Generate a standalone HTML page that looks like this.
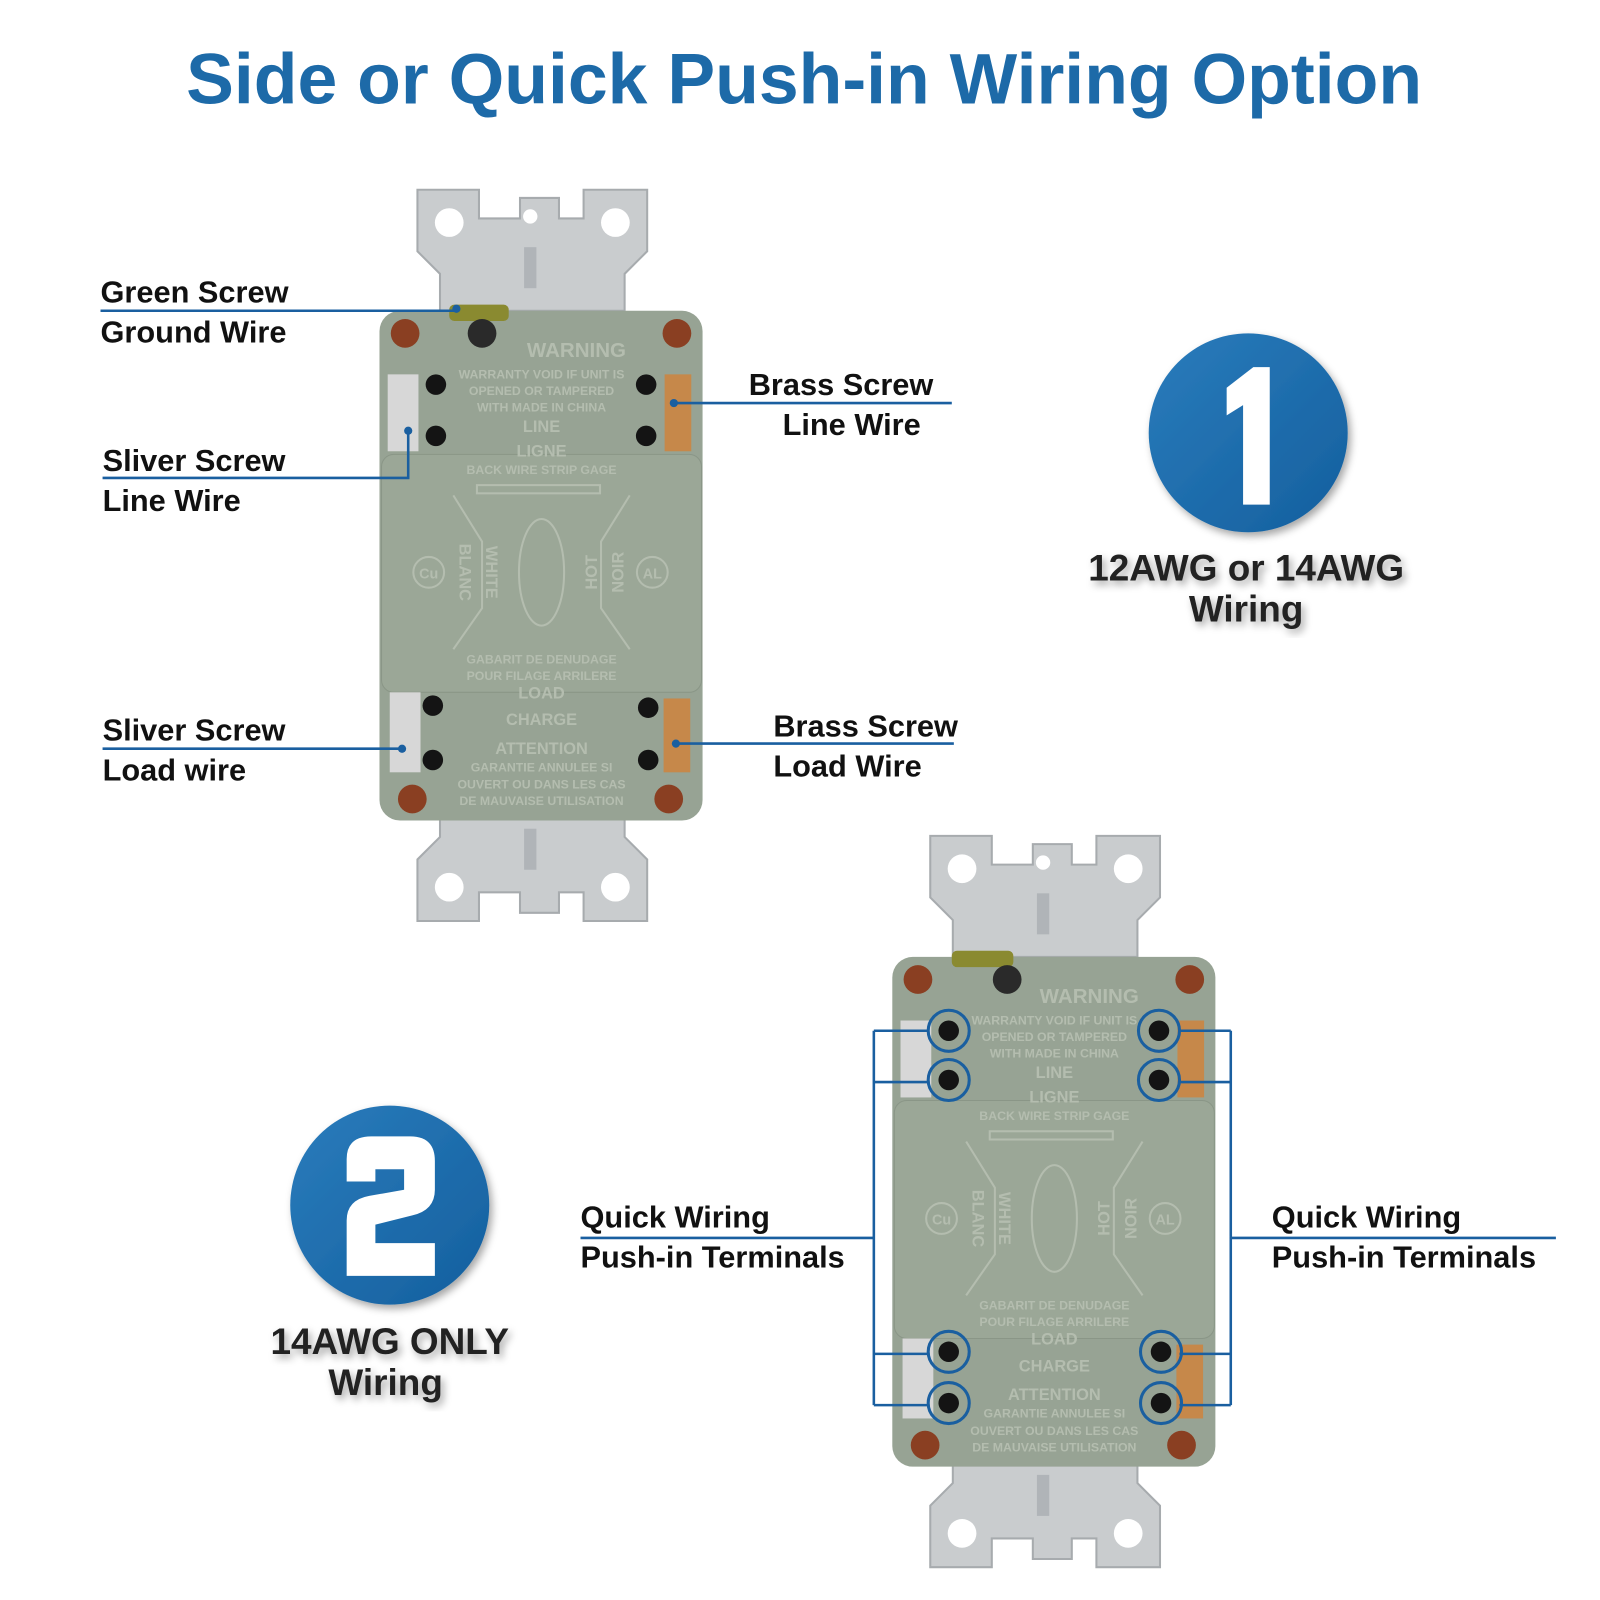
<!DOCTYPE html>
<html><head><meta charset="utf-8"><style>
html,body{margin:0;padding:0;background:#fff;width:1600px;height:1600px;overflow:hidden}
svg{display:block}
.lbl{font-family:"Liberation Sans",Arial,sans-serif;font-weight:bold;font-size:30px;fill:#111}
.big{font-family:"Liberation Sans",Arial,sans-serif;font-weight:bold;font-size:36px;fill:#222;text-anchor:middle}
.emb{font-family:"Liberation Sans",Arial,sans-serif;font-weight:bold;fill:#b4bdaf;text-anchor:middle}
</style></head><body>
<svg width="1600" height="1600" viewBox="0 0 1560 1560" xmlns="http://www.w3.org/2000/svg">
<defs>
<filter id="sh" x="-20%" y="-20%" width="140%" height="140%"><feDropShadow dx="3" dy="4" stdDeviation="4" flood-color="#000" flood-opacity="0.35"/></filter>
<linearGradient id="bl" x1="0" y1="0" x2="1" y2="1"><stop offset="0" stop-color="#2a7cbc"/><stop offset="1" stop-color="#145f9e"/></linearGradient>
</defs>
<text x="784" y="101" text-anchor="middle" font-family="Liberation Sans,Arial,sans-serif" font-weight="bold" font-size="70" fill="#1d6aa8" textLength="1205" lengthAdjust="spacingAndGlyphs">Side or Quick Push-in Wiring Option</text>

<!-- Receptacle 1 -->
<g transform="translate(370,303)">
 <path d="M37,-118 h60 v28 h40 v-20 h38 v20 h24 v-28 h62 v60 l-22,22 v36 h-180 v-36 l-22,-22z" fill="#c9ccce" stroke="#a7abae" stroke-width="2"/>
 <circle cx="68" cy="-86" r="14" fill="#fff"/><circle cx="230" cy="-86" r="14" fill="#fff"/><circle cx="147" cy="-92" r="7" fill="#fff"/>
 <rect x="141" y="-62" width="12" height="40" fill="#b0b4b8"/>
 <path d="M37,615 h60 v-28 h40 v20 h38 v-20 h24 v28 h62 v-60 l-22,-22 v-36 h-180 v36 l-22,22z" transform="translate(0,-20)" fill="#c9ccce" stroke="#a7abae" stroke-width="2"/>
 <circle cx="68" cy="562" r="14" fill="#fff"/><circle cx="230" cy="562" r="14" fill="#fff"/>
 <rect x="141" y="505" width="12" height="40" fill="#b0b4b8"/>
 <rect x="0" y="0" width="315" height="497" rx="20" fill="#97a394"/>
 <rect x="2" y="140" width="312" height="232" rx="12" fill="#9ba797" stroke="#8a9687"/>
 <rect x="68" y="-6" width="58" height="16" rx="5" fill="#8a8a30"/>
 <circle cx="100" cy="22" r="14" fill="#2a2a2a"/>
 <circle cx="25" cy="22" r="14" fill="#8a3f22"/><circle cx="290" cy="22" r="14" fill="#8a3f22"/>
 <circle cx="32" cy="476" r="14" fill="#8a3f22"/><circle cx="282" cy="476" r="14" fill="#8a3f22"/>
 <rect x="8" y="62" width="30" height="75" fill="#d7d7d7"/><rect x="278" y="62" width="26" height="75" fill="#c6884a"/>
 <rect x="10" y="372" width="30" height="78" fill="#d7d7d7"/><rect x="277" y="378" width="26" height="72" fill="#c6884a"/>
 <g fill="#141414"><circle cx="55" cy="72" r="10"/><circle cx="55" cy="122" r="10"/><circle cx="260" cy="72" r="10"/><circle cx="260" cy="122" r="10"/>
 <circle cx="52" cy="385" r="10"/><circle cx="52" cy="438" r="10"/><circle cx="262" cy="387" r="10"/><circle cx="262" cy="438" r="10"/></g>
 <text class="emb" x="192" y="45" font-size="20">WARNING</text>
 <text class="emb" x="158" y="66" font-size="12">WARRANTY VOID IF UNIT IS</text>
 <text class="emb" x="158" y="82" font-size="12">OPENED OR TAMPERED</text>
 <text class="emb" x="158" y="98" font-size="12">WITH MADE IN CHINA</text>
 <text class="emb" x="158" y="118" font-size="16">LINE</text>
 <text class="emb" x="158" y="142" font-size="16">LIGNE</text>
 <text class="emb" x="158" y="159" font-size="12">BACK WIRE STRIP GAGE</text>
 <rect x="95" y="170" width="120" height="8" fill="none" stroke="#b4bdaf" stroke-width="2"/>
 <g stroke="#b4bdaf" stroke-width="2" fill="none"><path d="M72,180 L100,225 V290 L72,330"/><path d="M244,180 L216,225 V290 L244,330"/></g>
 <ellipse cx="158" cy="255" rx="22" ry="52" fill="none" stroke="#b4bdaf" stroke-width="2"/>
 <circle cx="48" cy="255" r="15" fill="none" stroke="#b4bdaf" stroke-width="2"/><text class="emb" x="48" y="261" font-size="14">Cu</text>
 <circle cx="266" cy="255" r="15" fill="none" stroke="#b4bdaf" stroke-width="2"/><text class="emb" x="266" y="261" font-size="14">AL</text>
 <text class="emb" font-size="16" transform="translate(78,255) rotate(90)">BLANC</text>
 <text class="emb" font-size="16" transform="translate(104,255) rotate(90)">WHITE</text>
 <text class="emb" font-size="16" transform="translate(212,255) rotate(-90)">HOT</text>
 <text class="emb" font-size="16" transform="translate(238,255) rotate(-90)">NOIR</text>
 <text class="emb" x="158" y="344" font-size="12">GABARIT DE DENUDAGE</text>
 <text class="emb" x="158" y="360" font-size="12">POUR FILAGE ARRILERE</text>
 <text class="emb" x="158" y="378" font-size="16">LOAD</text>
 <text class="emb" x="158" y="404" font-size="16">CHARGE</text>
 <text class="emb" x="158" y="432" font-size="16">ATTENTION</text>
 <text class="emb" x="158" y="449" font-size="12">GARANTIE ANNULEE SI</text>
 <text class="emb" x="158" y="466" font-size="12">OUVERT OU DANS LES CAS</text>
 <text class="emb" x="158" y="482" font-size="12">DE MAUVAISE UTILISATION</text>
</g>

<!-- Receptacle 2 -->
<g transform="translate(870,933)">
 <path d="M37,-118 h60 v28 h40 v-20 h38 v20 h24 v-28 h62 v60 l-22,22 v36 h-180 v-36 l-22,-22z" fill="#c9ccce" stroke="#a7abae" stroke-width="2"/>
 <circle cx="68" cy="-86" r="14" fill="#fff"/><circle cx="230" cy="-86" r="14" fill="#fff"/><circle cx="147" cy="-92" r="7" fill="#fff"/>
 <rect x="141" y="-62" width="12" height="40" fill="#b0b4b8"/>
 <path d="M37,615 h60 v-28 h40 v20 h38 v-20 h24 v28 h62 v-60 l-22,-22 v-36 h-180 v36 l-22,22z" transform="translate(0,-20)" fill="#c9ccce" stroke="#a7abae" stroke-width="2"/>
 <circle cx="68" cy="562" r="14" fill="#fff"/><circle cx="230" cy="562" r="14" fill="#fff"/>
 <rect x="141" y="505" width="12" height="40" fill="#b0b4b8"/>
 <rect x="0" y="0" width="315" height="497" rx="20" fill="#97a394"/>
 <rect x="2" y="140" width="312" height="232" rx="12" fill="#9ba797" stroke="#8a9687"/>
 <rect x="58" y="-6" width="60" height="16" rx="5" fill="#8a8a30"/>
 <circle cx="112" cy="22" r="14" fill="#2a2a2a"/>
 <circle cx="25" cy="22" r="14" fill="#8a3f22"/><circle cx="290" cy="22" r="14" fill="#8a3f22"/>
 <circle cx="32" cy="476" r="14" fill="#8a3f22"/><circle cx="282" cy="476" r="14" fill="#8a3f22"/>
 <rect x="8" y="62" width="30" height="75" fill="#d7d7d7"/><rect x="278" y="62" width="26" height="75" fill="#c6884a"/>
 <rect x="10" y="372" width="30" height="78" fill="#d7d7d7"/><rect x="277" y="378" width="26" height="72" fill="#c6884a"/>
 <g fill="#141414"><circle cx="55" cy="72" r="10"/><circle cx="55" cy="120" r="10"/><circle cx="260" cy="72" r="10"/><circle cx="260" cy="120" r="10"/>
 <circle cx="55" cy="385" r="10"/><circle cx="55" cy="435" r="10"/><circle cx="262" cy="385" r="10"/><circle cx="262" cy="435" r="10"/></g>
 <text class="emb" x="192" y="45" font-size="20">WARNING</text>
 <text class="emb" x="158" y="66" font-size="12">WARRANTY VOID IF UNIT IS</text>
 <text class="emb" x="158" y="82" font-size="12">OPENED OR TAMPERED</text>
 <text class="emb" x="158" y="98" font-size="12">WITH MADE IN CHINA</text>
 <text class="emb" x="158" y="118" font-size="16">LINE</text>
 <text class="emb" x="158" y="142" font-size="16">LIGNE</text>
 <text class="emb" x="158" y="159" font-size="12">BACK WIRE STRIP GAGE</text>
 <rect x="95" y="170" width="120" height="8" fill="none" stroke="#b4bdaf" stroke-width="2"/>
 <g stroke="#b4bdaf" stroke-width="2" fill="none"><path d="M72,180 L100,225 V290 L72,330"/><path d="M244,180 L216,225 V290 L244,330"/></g>
 <ellipse cx="158" cy="255" rx="22" ry="52" fill="none" stroke="#b4bdaf" stroke-width="2"/>
 <circle cx="48" cy="255" r="15" fill="none" stroke="#b4bdaf" stroke-width="2"/><text class="emb" x="48" y="261" font-size="14">Cu</text>
 <circle cx="266" cy="255" r="15" fill="none" stroke="#b4bdaf" stroke-width="2"/><text class="emb" x="266" y="261" font-size="14">AL</text>
 <text class="emb" font-size="16" transform="translate(78,255) rotate(90)">BLANC</text>
 <text class="emb" font-size="16" transform="translate(104,255) rotate(90)">WHITE</text>
 <text class="emb" font-size="16" transform="translate(212,255) rotate(-90)">HOT</text>
 <text class="emb" font-size="16" transform="translate(238,255) rotate(-90)">NOIR</text>
 <text class="emb" x="158" y="344" font-size="12">GABARIT DE DENUDAGE</text>
 <text class="emb" x="158" y="360" font-size="12">POUR FILAGE ARRILERE</text>
 <text class="emb" x="158" y="378" font-size="16">LOAD</text>
 <text class="emb" x="158" y="404" font-size="16">CHARGE</text>
 <text class="emb" x="158" y="432" font-size="16">ATTENTION</text>
 <text class="emb" x="158" y="449" font-size="12">GARANTIE ANNULEE SI</text>
 <text class="emb" x="158" y="466" font-size="12">OUVERT OU DANS LES CAS</text>
 <text class="emb" x="158" y="482" font-size="12">DE MAUVAISE UTILISATION</text>
</g>

<!-- leader lines -->
<g stroke="#1a5fa0" stroke-width="2.5" fill="none">
 <path d="M98,303 H445"/>
 <path d="M100,466 H398 V420"/>
 <path d="M655,393 H928"/>
 <path d="M100,730 H392"/>
 <path d="M657,725 H930"/>
 <path d="M566,1207 H852 M852,1005 V1370 M852,1005 H905 M852,1055 H905 M852,1320 H905 M852,1370 H905"/>
 <path d="M1517,1207 H1200 M1200,1005 V1370 M1200,1005 H1150 M1200,1055 H1150 M1200,1320 H1150 M1200,1370 H1150"/>
 <g stroke-width="3">
 <circle cx="925" cy="1005" r="20"/><circle cx="925" cy="1053" r="20"/><circle cx="925" cy="1318" r="20"/><circle cx="925" cy="1368" r="20"/>
 <circle cx="1130" cy="1005" r="20"/><circle cx="1130" cy="1053" r="20"/><circle cx="1132" cy="1318" r="20"/><circle cx="1132" cy="1368" r="20"/></g>
</g>
<g fill="#1a5fa0"><circle cx="445" cy="301" r="4"/><circle cx="398" cy="420" r="4"/><circle cx="657" cy="393" r="4"/><circle cx="392" cy="730" r="4"/><circle cx="659" cy="725" r="4"/></g>

<!-- labels -->
<text class="lbl" x="98" y="295">Green Screw</text>
<text class="lbl" x="98" y="334">Ground Wire</text>
<text class="lbl" x="100" y="459">Sliver Screw</text>
<text class="lbl" x="100" y="498">Line Wire</text>
<text class="lbl" x="730" y="385">Brass Screw</text>
<text class="lbl" x="763" y="424">Line Wire</text>
<text class="lbl" x="100" y="722">Sliver Screw</text>
<text class="lbl" x="100" y="761">Load wire</text>
<text class="lbl" x="754" y="718">Brass Screw</text>
<text class="lbl" x="754" y="757">Load Wire</text>
<text class="lbl" x="566" y="1197">Quick Wiring</text>
<text class="lbl" x="566" y="1236">Push-in Terminals</text>
<text class="lbl" x="1240" y="1197">Quick Wiring</text>
<text class="lbl" x="1240" y="1236">Push-in Terminals</text>

<!-- badges -->
<circle cx="1217" cy="422" r="97" fill="url(#bl)" filter="url(#sh)"/>
<path d="M1196,378 L1222,358 H1238 V492 H1212 V395 L1196,405 Z" fill="#fff"/>
<text class="big" x="1215" y="566" filter="url(#sh)">12AWG or 14AWG</text>
<text class="big" x="1215" y="606" filter="url(#sh)">Wiring</text>

<circle cx="380" cy="1175" r="97" fill="url(#bl)" filter="url(#sh)"/>
<path d="M338,1130 Q338,1108 362,1108 H400 Q424,1108 424,1132 V1160 Q424,1180 402,1185 L366,1194 V1212 H424 V1244 H338 V1190 Q338,1170 360,1166 L394,1160 V1140 H366 V1152 H338 Z" fill="#fff"/>
<text class="big" x="380" y="1320" filter="url(#sh)">14AWG ONLY</text>
<text class="big" x="376" y="1360" filter="url(#sh)">Wiring</text>
</svg>
</body></html>
